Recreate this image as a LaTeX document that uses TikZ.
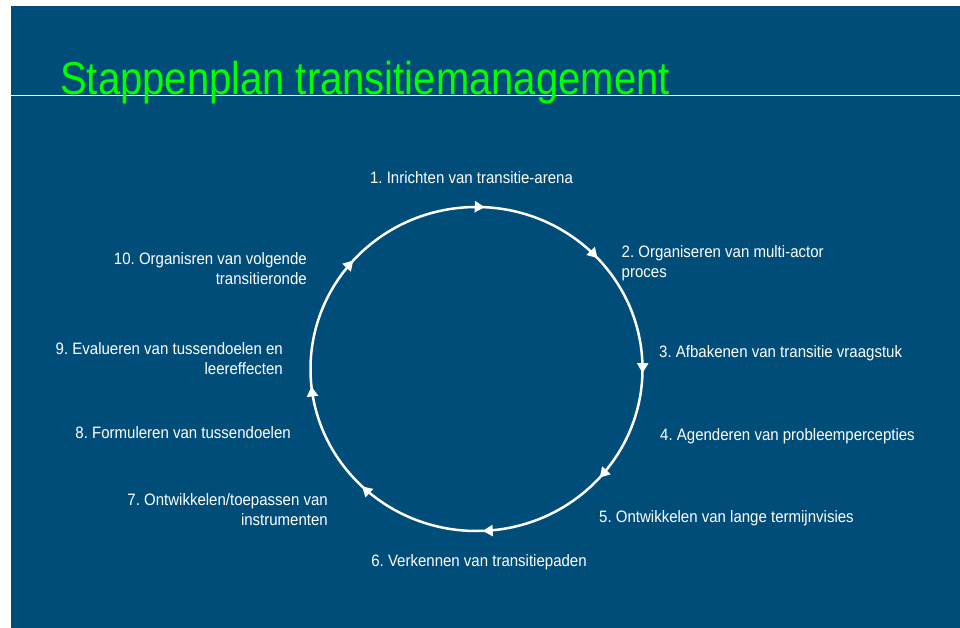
\documentclass[tikz,border=0pt]{standalone}
\usepackage{fontspec}
\usepackage{tikz}
\usetikzlibrary{arrows.meta,decorations.markings}
\newfontfamily\titlefont[FakeStretch=0.87]{Liberation Sans}
\newfontfamily\labelfont[FakeStretch=0.91]{Liberation Sans}
\frenchspacing
\definecolor{tmblue}{RGB}{0,77,122}
\definecolor{tmgreen}{RGB}{0,255,0}
\tikzset{cycletip/.tip={Triangle[length=10pt,width=11pt]}}
\tikzstyle{title} = [font=\titlefont\fontsize{46}{50}\selectfont, text=tmgreen, inner sep=0pt]
\tikzstyle{stage} = [font=\labelfont\fontsize{16.5}{19.5}\selectfont, text=white, inner sep=0pt]
\tikzstyle{cycle} = [line width=2.5pt, draw=white, postaction={decorate}, decoration={markings,
  mark=at position 0.008 with {\arrow{cycletip}},
  mark=at position 0.131 with {\arrow{cycletip}},
  mark=at position 0.254 with {\arrow{cycletip}},
  mark=at position 0.366 with {\arrow{cycletip}},
  mark=at position 0.494 with {\arrow{cycletip}},
  mark=at position 0.622 with {\arrow{cycletip}},
  mark=at position 0.733 with {\arrow{cycletip}},
  mark=at position 0.866 with {\arrow{cycletip}}}]
\begin{document}
\begin{tikzpicture}[x=1pt, y=1pt]
\useasboundingbox (0,0) rectangle (960,-628);
\fill[tmblue] (11,-6) rectangle (960,-628);
% Title
\draw[white, line width=1.5pt] (11,-95.5) -- (960,-95.5);
\node (heading) [title, anchor=base west] at (60,-95) {Stappenplan transitiemanagement};
% Cycle
\coordinate (centre) at (476.5,-369);
\draw[cycle] (476.5,-207) arc[start angle=90, end angle=-270, x radius=166pt, y radius=162pt];
% Steps (multi-line labels sit on their last line)
\node (arena) [stage, anchor=base] at (471.5,-184) {1. Inrichten van transitie-arena};
\node (actors) [stage, anchor=base west, align=left] at (621.5,-277) {2. Organiseren van multi-actor\\proces};
\node (scope) [stage, anchor=base west] at (659,-357) {3. Afbakenen van transitie vraagstuk};
\node (agenda) [stage, anchor=base west] at (660,-440) {4. Agenderen van probleempercepties};
\node (vision) [stage, anchor=base west] at (599,-522) {5. Ontwikkelen van lange termijnvisies};
\node (paths) [stage, anchor=base] at (479,-566) {6. Verkennen van transitiepaden};
\node (tools) [stage, anchor=base east, align=right] at (328,-525) {7. Ontwikkelen/toepassen van\\instrumenten};
\node (targets) [stage, anchor=base east] at (291,-438) {8. Formuleren van tussendoelen};
\node (evaluation) [stage, anchor=base east, align=right] at (283,-374) {9. Evalueren van tussendoelen en\\leereffecten};
\node (nextround) [stage, anchor=base east, align=right] at (307,-284) {10. Organisren van volgende\\transitieronde};
\end{tikzpicture}
\end{document}
